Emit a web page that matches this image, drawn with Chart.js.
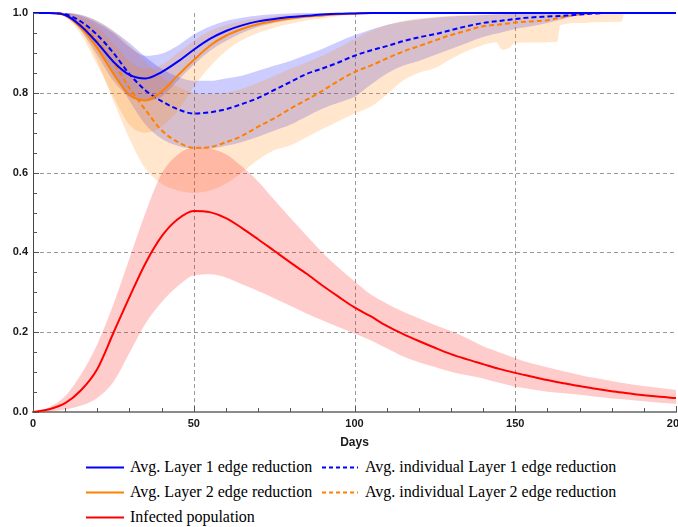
<!DOCTYPE html>
<html>
<head>
<meta charset="utf-8">
<script src="https://cdn.jsdelivr.net/npm/chart.js@4.4.0/dist/chart.umd.min.js"></script>
<style>
  body { margin: 0; background: #fff; width: 678px; height: 527px; overflow: hidden; position: relative; }
  #wrap { position: absolute; left: 0; top: 0; width: 678px; height: 455px; }
  .lg { position: absolute; white-space: nowrap; font-family: "Liberation Serif", "Times New Roman", serif; font-size: 16px; line-height: 18px; color: #000; }
  .lg svg { position: absolute; top: 0; }
</style>
</head>
<body>
<div id="wrap"><canvas id="chart" width="678" height="455"></canvas></div>
<div id="legend"></div>
<script>
// --- Data ---
const days = [0,5,10,15,20,25,30,35,40,45,50,55,60,65,70,75,80,85,90,95,100,
  105,110,115,120,125,130,135,140,145,150,155,160,165,170,175,180,185,190,195,200];

const layer1Avg = [1,1,0.995,0.967,0.925,0.878,0.845,0.836,0.852,0.878,0.908,0.935,0.955,0.969,0.979,0.985,0.99,0.993,0.996,0.998,0.999,
  1,1,1,1,1,1,1,1,1,1,1,1,1,1,1,1,1,1,1,1];
const layer1AvgUp = [1,1,1,0.993,0.975,0.95,0.915,0.893,0.898,0.918,0.946,0.966,0.98,0.988,0.994,0.997,0.999,1,1,1,1,
  1,1,1,1,1,1,1,1,1,1,1,1,1,1,1,1,1,1,1,1];
const layer1AvgLow = [1,1,0.993,0.955,0.895,0.83,0.79,0.78,0.79,0.83,0.87,0.905,0.93,0.95,0.965,0.975,0.983,0.988,0.992,0.995,0.997,
  0.999,1,1,1,1,1,1,1,1,1,1,1,1,1,1,1,1,1,1,1];

const layer2Avg = [1,1,0.994,0.962,0.912,0.848,0.795,0.781,0.803,0.843,0.882,0.918,0.943,0.96,0.972,0.98,0.986,0.991,0.994,0.997,0.999,
  1,1,1,1,1,1,1,1,1,1,1,1,1,1,1,1,1,1,1,1];
const layer2AvgUp = [1,1,1,0.99,0.965,0.925,0.88,0.86,0.87,0.9,0.93,0.955,0.97,0.98,0.987,0.992,0.995,0.997,0.998,0.999,1,
  1,1,1,1,1,1,1,1,1,1,1,1,1,1,1,1,1,1,1,1];
const layer2AvgLow = [1,1,0.99,0.945,0.87,0.79,0.72,0.7,0.715,0.755,0.815,0.865,0.905,0.932,0.95,0.963,0.973,0.981,0.987,0.992,0.995,
  0.997,0.999,1,1,1,1,1,1,1,1,1,1,1,1,1,1,1,1,1,1];

const layer1Ind = [1,1,0.997,0.978,0.945,0.9,0.847,0.806,0.779,0.759,0.748,0.751,0.759,0.772,0.787,0.807,0.827,0.847,0.861,0.876,0.893,
  0.906,0.917,0.929,0.939,0.947,0.957,0.967,0.975,0.98,0.985,0.989,0.991,0.993,0.996,0.999,1,1,1,1,1];
const layer1IndUp = [1,1,1,0.995,0.98,0.955,0.925,0.89,0.86,0.84,0.83,0.83,0.836,0.843,0.855,0.868,0.88,0.895,0.91,0.928,0.944,
  0.958,0.97,0.978,0.984,0.988,0.991,0.993,0.995,0.997,0.998,0.999,1,1,1,1,1,1,1,1,1];
const layer1IndLow = [1,1,0.995,0.965,0.915,0.85,0.78,0.72,0.685,0.667,0.66,0.66,0.667,0.677,0.69,0.705,0.72,0.74,0.76,0.775,0.79,
  0.82,0.848,0.868,0.88,0.895,0.91,0.925,0.94,0.95,0.96,0.967,0.975,0.985,0.995,1,1,1,1,1,1];

const layer2Ind = [1,1,0.996,0.97,0.93,0.877,0.812,0.757,0.706,0.677,0.662,0.664,0.676,0.692,0.715,0.736,0.76,0.782,0.805,0.83,0.852,
  0.868,0.886,0.903,0.917,0.931,0.945,0.956,0.967,0.971,0.976,0.979,0.982,0.99,0.997,1,1,1,1,1,1];
const layer2IndUp = [1,1,1,0.995,0.98,0.955,0.92,0.88,0.84,0.815,0.8,0.797,0.8,0.81,0.825,0.842,0.86,0.876,0.893,0.913,0.935,
  0.955,0.97,0.98,0.986,0.99,0.993,0.995,0.996,0.997,0.998,0.999,1,1,1,1,1,1,1,1,1];
// lower edge of this band is ragged, so it has its own day list
const layer2IndLowDays = [0,5,10,15,20,25,30,35,40,45,50,55,60,65,70,75,80,85,90,95,100,
  105,110,115,120,125,130,135,140,144,146,148,150,155,160,163,164,170,175,183,184,190,200];
const layer2IndLow = [1,1,0.99,0.955,0.88,0.78,0.685,0.61,0.572,0.555,0.549,0.555,0.572,0.6,0.632,0.656,0.668,0.688,0.709,0.729,0.748,
  0.765,0.795,0.83,0.85,0.862,0.885,0.905,0.92,0.927,0.908,0.912,0.925,0.926,0.927,0.928,0.969,0.975,0.977,0.978,1,1,1];

const infected = [0,0.007,0.022,0.055,0.108,0.198,0.288,0.373,0.44,0.483,0.504,0.501,0.486,0.461,0.433,0.404,0.375,0.347,0.317,0.289,0.262,
  0.24,0.216,0.196,0.178,0.161,0.145,0.132,0.12,0.108,0.098,0.089,0.08,0.072,0.065,0.058,0.052,0.047,0.042,0.038,0.035];
const infectedUp = [0,0.012,0.04,0.095,0.17,0.27,0.385,0.5,0.597,0.645,0.662,0.66,0.646,0.615,0.578,0.532,0.487,0.443,0.4,0.362,0.328,
  0.295,0.272,0.252,0.235,0.218,0.203,0.185,0.165,0.15,0.135,0.122,0.112,0.102,0.093,0.085,0.078,0.071,0.065,0.06,0.055];
const infectedLow = [0,0.001,0.006,0.016,0.035,0.075,0.148,0.222,0.275,0.315,0.342,0.345,0.337,0.32,0.303,0.285,0.266,0.247,0.23,0.213,0.197,
  0.18,0.16,0.14,0.125,0.113,0.101,0.092,0.084,0.073,0.063,0.057,0.051,0.047,0.043,0.038,0.034,0.031,0.027,0.023,0.02];

const xGridAt = [50, 100, 150];
const yGridAt = [0.2, 0.4, 0.6, 0.8];

const legendLabels = [
  "Avg. Layer 1 edge reduction", "Avg. individual Layer 1 edge reduction",
  "Avg. Layer 2 edge reduction", "Avg. individual Layer 2 edge reduction",
  "Infected population"
];
const legendColors = ["#0000ff", "#0000ff", "#ff8000", "#ff8000", "#ff0000"];
const legendDashed = [false, true, false, true, false];

// --- helpers ---
const xy = (xs, ys) => xs.map((x, i) => ({ x: x, y: ys[i] }));

function line(ys, color, dashed) {
  return {
    data: xy(days, ys), borderColor: color, borderWidth: 2, borderDash: dashed ? [5, 3] : [],
    pointRadius: 0, fill: false, cubicInterpolationMode: "monotone", order: 0, clip: 4
  };
}

function band(up, low, color, lowDays) {
  return [
    { data: xy(days, up), fill: "+1", backgroundColor: color, borderColor: "transparent", borderWidth: 0,
      pointRadius: 0, cubicInterpolationMode: "monotone", order: 1 },
    { data: xy(lowDays || days, low), fill: false, backgroundColor: color, borderColor: "transparent", borderWidth: 0,
      pointRadius: 0, cubicInterpolationMode: "monotone", order: 1 }
  ];
}

const BLUE = "#0000ff", ORANGE = "#ff8000", RED = "#ff0000";
const BLUE_BAND = "rgba(0,0,255,0.2)", ORANGE_BAND = "rgba(255,128,0,0.2)", RED_BAND = "rgba(255,0,0,0.2)";

const datasets = [
  line(layer1Avg, BLUE, false),
  line(layer2Avg, ORANGE, false),
  line(layer1Ind, BLUE, true),
  line(layer2Ind, ORANGE, true),
  line(infected, RED, false),
  ...band(infectedUp, infectedLow, RED_BAND),
  ...band(layer2IndUp, layer2IndLow, ORANGE_BAND, layer2IndLowDays),
  ...band(layer2AvgUp, layer2AvgLow, ORANGE_BAND),
  ...band(layer1IndUp, layer1IndLow, BLUE_BAND),
  ...band(layer1AvgUp, layer1AvgLow, BLUE_BAND)
];

const isMult = (v, m) => Math.abs(v / m - Math.round(v / m)) < 1e-6;

// --- dashed grid + inward ticks ---
const axisDeco = {
  id: "axisDeco",
  beforeDatasetsDraw(chart) {
    const { ctx, chartArea: a, scales: { x, y } } = chart;
    ctx.save();
    ctx.strokeStyle = "#9a9a9a";
    ctx.lineWidth = 1;
    ctx.setLineDash([4, 3]);
    xGridAt.forEach(v => {
      const px = Math.round(x.getPixelForValue(v)) + 0.5;
      ctx.beginPath(); ctx.moveTo(px, a.top); ctx.lineTo(px, a.bottom); ctx.stroke();
    });
    yGridAt.forEach(v => {
      const py = Math.round(y.getPixelForValue(v)) + 0.5;
      ctx.beginPath(); ctx.moveTo(a.left, py); ctx.lineTo(a.right, py); ctx.stroke();
    });
    ctx.restore();
  },
  afterDraw(chart) {
    const { ctx, chartArea: a, scales: { x, y } } = chart;
    ctx.save();
    ctx.strokeStyle = "#555";
    ctx.lineWidth = 1;
    x.ticks.forEach(t => {
      const px = Math.round(x.getPixelForValue(t.value)) + 0.5;
      const len = isMult(t.value, 50) ? 6 : 4;
      ctx.beginPath(); ctx.moveTo(px, a.bottom); ctx.lineTo(px, a.bottom - len); ctx.stroke();
    });
    y.ticks.forEach(t => {
      const py = Math.round(y.getPixelForValue(t.value)) + 0.5;
      const len = isMult(t.value, 0.2) ? 6 : 4;
      ctx.beginPath(); ctx.moveTo(a.left, py); ctx.lineTo(a.left + len, py); ctx.stroke();
    });
    ctx.restore();
  }
};

const tickFont = { family: "'Liberation Sans', Arial, sans-serif", size: 11, weight: "bold" };

new Chart(document.getElementById("chart"), {
  type: "line",
  data: { datasets: datasets },
  options: {
    responsive: false,
    animation: false,
    events: [],
    layout: { padding: { top: 13, right: 2, left: 0, bottom: 0 } },
    plugins: { legend: { display: false }, tooltip: { enabled: false } },
    scales: {
      x: {
        type: "linear", min: 0, max: 200,
        grid: { display: false, drawTicks: false },
        border: { display: true, color: "#8a8a8a", width: 2 },
        ticks: {
          stepSize: 10, autoSkip: false, maxRotation: 0, padding: 5, color: "#1a1a1a", font: tickFont,
          callback: v => isMult(v, 50) ? String(v) : ""
        },
        title: { display: true, text: "Days", color: "#1a1a1a", padding: { top: 0, bottom: 5 },
          font: { family: "'Liberation Sans', Arial, sans-serif", size: 12, weight: "bold" } },
        afterFit(s) { s.height = 43; s.paddingLeft = 0; s.paddingRight = 0; }
      },
      y: {
        min: 0, max: 1,
        grid: { display: false, drawTicks: false },
        border: { display: true, color: "#444", width: 1 },
        ticks: {
          stepSize: 0.05, autoSkip: false, padding: 5, color: "#1a1a1a", font: tickFont,
          callback: v => isMult(v, 0.2) ? v.toFixed(1) : ""
        },
        afterFit(s) { s.width = 33; s.paddingTop = 0; s.paddingBottom = 0; }
      }
    }
  },
  plugins: [axisDeco]
});

// --- legend (two columns, Mathematica style) ---
const legend = document.getElementById("legend");
const colLine = [86, 322], colText = [130, 365], rowY = [458, 483, 508];
legendLabels.forEach((label, i) => {
  const col = i % 2, row = Math.floor(i / 2);
  const el = document.createElement("div");
  el.className = "lg";
  el.style.left = colLine[col] + "px";
  el.style.top = rowY[row] + "px";
  const w = col === 0 ? 38 : 36;
  el.innerHTML =
    `<svg width="${w}" height="18"><line x1="0" y1="9.5" x2="${w}" y2="9.5" stroke="${legendColors[i]}" stroke-width="2"` +
    (legendDashed[i] ? ` stroke-dasharray="4,3"` : "") + `/></svg>` +
    `<span style="position:absolute;left:${colText[col] - colLine[col]}px;top:0">${label}</span>`;
  legend.appendChild(el);
});
</script>
</body>
</html>
